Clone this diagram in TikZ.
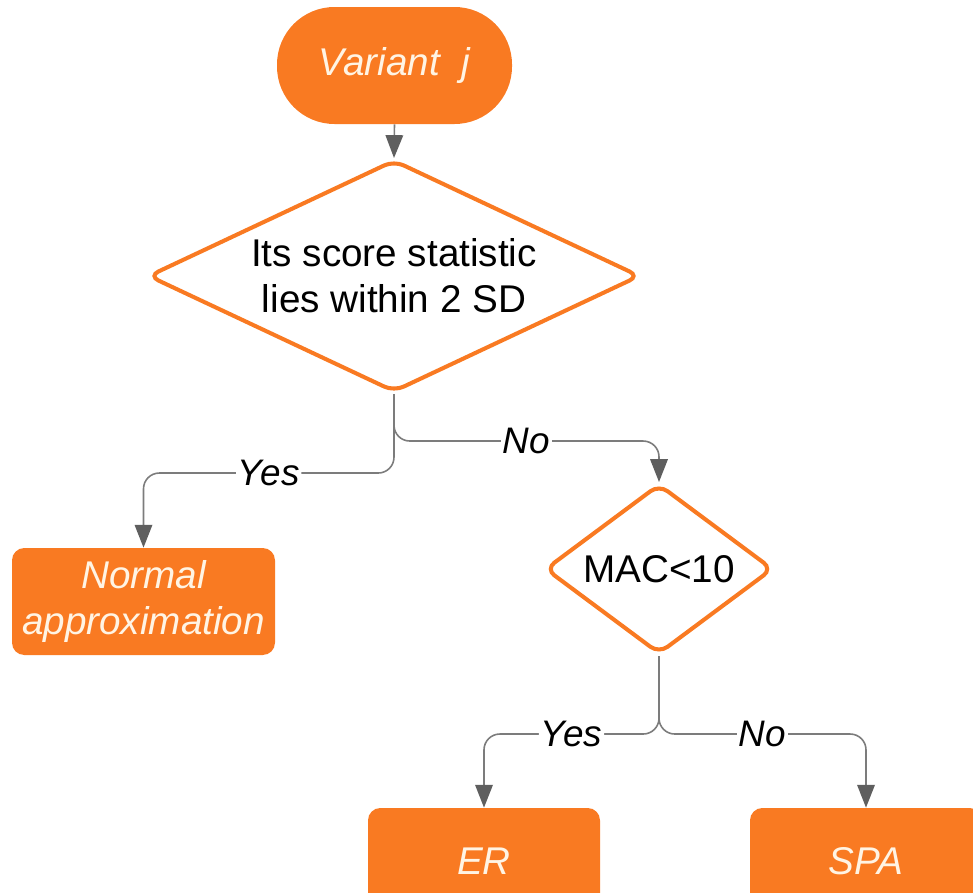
\documentclass[tikz,border=0pt]{standalone}
\usepackage{fontspec}
\setmainfont{Liberation Sans}
\usetikzlibrary{
  arrows.meta,
  shapes.geometric,
  positioning,
  calc
}
\definecolor{fcOrange}{HTML}{F97A22}
\definecolor{fcLine}{HTML}{7C7C7C}
\definecolor{fcTip}{HTML}{5F5F5F}
\definecolor{fcText}{HTML}{FFF4E4}
\tikzset{
  fcnode/.style={
    font=\fontsize{22}{26}\selectfont, align=center, inner sep=2pt
  },
  terminal/.style={fcnode, fill=fcOrange, text=fcText,
    font=\fontsize{22}{26}\selectfont\itshape, rounded corners=1.15cm,
    minimum width=4.7cm, minimum height=2.34cm},
  decision/.style={fcnode, diamond, draw=fcOrange, fill=white,
    line width=2.3pt, rounded corners=6pt},
  outcome/.style={fcnode, fill=fcOrange, text=fcText,
    font=\fontsize{22}{26}\selectfont\itshape, rounded corners=7pt,
    minimum width=4.64cm, minimum height=2.14cm},
  conn/.style={-{Triangle[length=13pt, width=10pt, color=fcTip]},
    draw=fcLine, line width=0.9pt, rounded corners=9pt},
  tag/.style={font=\fontsize{21}{24}\selectfont\itshape, fill=white, inner sep=1pt}
}

\begin{document}
\begin{tikzpicture}
  \useasboundingbox (0,0) rectangle (19.46,-17.84);
  \clip (0,0) rectangle (19.46,-17.84);

  % nodes
  \node[terminal] (start) at (7.89,-1.31) {Variant\ \ j};
  \node[decision, aspect=2.12, minimum width=9.84cm, minimum height=4.64cm]
    (test) at (7.88,-5.52) {Its score statistic\\lies within 2 SD};
  \node[outcome, minimum width=5.26cm] (normal) at (2.87,-12.03) {Normal\\approximation};
  \node[decision, aspect=1.34, minimum width=4.56cm, minimum height=3.4cm]
    (mac) at (13.18,-11.38) {MAC<10};
  \node[outcome] (er) at (9.68,-17.23) {ER};
  \node[outcome] (spa) at (17.32,-17.23) {SPA};

  % connectors
  \draw[conn] (start.south) -- (test.north);
  \draw[conn] (test.south) -- ++(0,-1.58) -| node[tag, pos=0.25] {Yes} (normal.north);
  \draw[conn] (test.south) -- ++(0,-0.94) -| node[tag, pos=0.25] {No} (mac.north);
  \draw[conn] (mac.south) -- ++(0,-1.56) -| node[tag, pos=0.25] {Yes} (er.north);
  \draw[conn] (mac.south) -- ++(0,-1.56) -| node[tag, pos=0.25] {No} (spa.north);
\end{tikzpicture}
\end{document}
